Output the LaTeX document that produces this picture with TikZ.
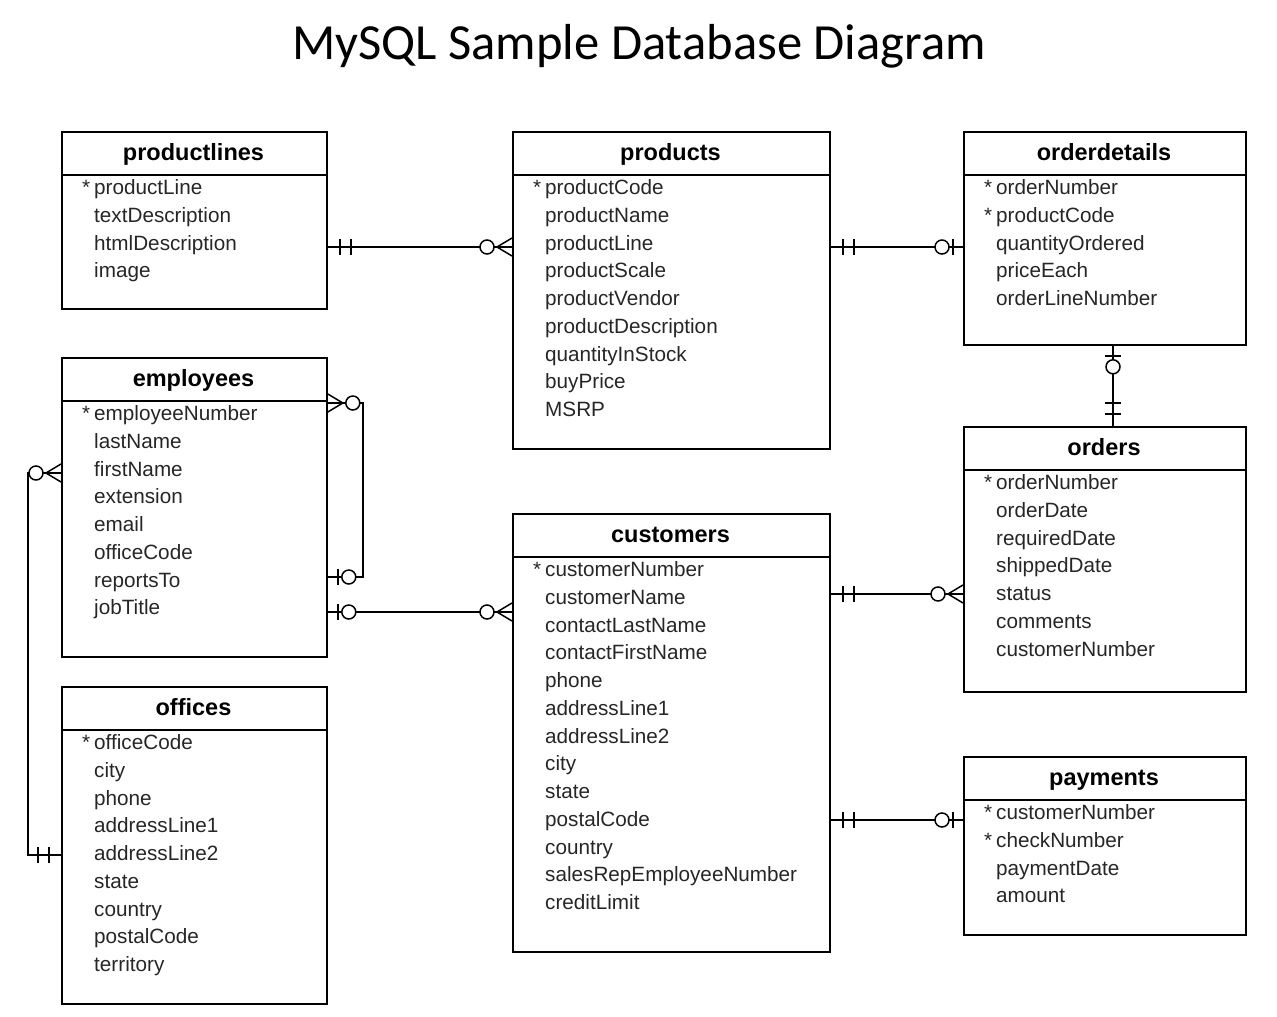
\documentclass[tikz,border=0pt]{standalone}
\usepackage{fontspec}
\setmainfont{Liberation Sans}
\newfontfamily\titlefont{Carlito}

\newcommand{\pk}{\llap{*\hspace{4pt}}}
% one table: name, left, top, right, bottom, title, columns
\newcommand{\erdtable}[7]{%
  \node[tbox, minimum width={#4pt-#2pt}, minimum height={#5pt-#3pt}] (#1) at (#2,#3) {};
  \node[thead] (#1-title) at ({(#2+#4)/2},#3+27) {#6};
  \draw[tline] (#2,#3+44) -- (#4,#3+44);
  \foreach \c [count=\i] in {#7}
    \node[trow] (#1-\i) at (#2+33,{#3+61+(\i-1)*27.75}) {\c};
}

\tikzset{
  tline/.style = {line width=1.8pt},
  rel/.style = {line width=1.5pt},
  pone/.pic = {\draw[rel] (12,-8) -- (12,8) (23,-8) -- (23,8);},
  pzone/.pic = {\draw[rel] (10,-8) -- (10,8);
                \draw[rel, fill=white] (21,0) circle (7pt);},
  pzmany/.pic = {\draw[rel] (0,-9) -- (15,0) -- (0,9);
                 \draw[rel, fill=white] (25,0) circle (7pt);}
}

\begin{document}
\begin{tikzpicture}[x=1pt, y=-1pt,
                    tbox/.style = {draw, line width=1.8pt, anchor=north west,
                                   inner sep=0pt},
                    thead/.style = {anchor=mid, inner sep=0pt,
                                    font=\bfseries\fontsize{23.5}{26}\selectfont},
                    trow/.style = {anchor=mid west, inner sep=0pt, text=black!85,
                                   font=\fontsize{20.7}{24}\selectfont}]
  \useasboundingbox (0,0) rectangle (1277,1017);

  \node[font=\titlefont\fontsize{50.6}{60}\selectfont] (title) at (639,46)
    {MySQL Sample Database Diagram};

  % tables
  \erdtable{productlines}{61}{131}{326}{308}{productlines}
    {\pk productLine, textDescription, htmlDescription, image}
  \erdtable{products}{512}{131}{829}{448}{products}
    {\pk productCode, productName, productLine, productScale, productVendor,
     productDescription, quantityInStock, buyPrice, MSRP}
  \erdtable{orderdetails}{963}{131}{1245}{344}{orderdetails}
    {\pk orderNumber, \pk productCode, quantityOrdered, priceEach, orderLineNumber}
  \erdtable{employees}{61}{357}{326}{656}{employees}
    {\pk employeeNumber, lastName, firstName, extension, email, officeCode,
     reportsTo, jobTitle}
  \erdtable{orders}{963}{426}{1245}{691}{orders}
    {\pk orderNumber, orderDate, requiredDate, shippedDate, status, comments,
     customerNumber}
  \erdtable{customers}{512}{513}{829}{951}{customers}
    {\pk customerNumber, customerName, contactLastName, contactFirstName, phone,
     addressLine1, addressLine2, city, state, postalCode, country,
     salesRepEmployeeNumber, creditLimit}
  \erdtable{offices}{61}{686}{326}{1003}{offices}
    {\pk officeCode, city, phone, addressLine1, addressLine2, state, country,
     postalCode, territory}
  \erdtable{payments}{963}{756}{1245}{934}{payments}
    {\pk customerNumber, \pk checkNumber, paymentDate, amount}

  % relations
  \draw[rel] (productlines.east |- 0,247) -- (products.west |- 0,247);
  \pic at (productlines.east |- 0,247) {pone};
  \pic[rotate=180] at (products.west |- 0,247) {pzmany};

  \draw[rel] (products.east |- 0,247) -- (orderdetails.west |- 0,247);
  \pic at (products.east |- 0,247) {pone};
  \pic[rotate=180] at (orderdetails.west |- 0,247) {pzone};

  \draw[rel] (orderdetails.south -| 1113,0) -- (orders.north -| 1113,0);
  \pic[rotate=-90] at (orderdetails.south -| 1113,0) {pzone};
  \pic[rotate=90] at (orders.north -| 1113,0) {pone};

  \draw[rel] (employees.east |- 0,403) -- ++(35,0) |- (employees.east |- 0,577);
  \pic at (employees.east |- 0,403) {pzmany};
  \pic at (employees.east |- 0,577) {pzone};

  \draw[rel] (employees.east |- 0,612) -- (customers.west |- 0,612);
  \pic at (employees.east |- 0,612) {pzone};
  \pic[rotate=180] at (customers.west |- 0,612) {pzmany};

  \draw[rel] (customers.east |- 0,594) -- (orders.west |- 0,594);
  \pic at (customers.east |- 0,594) {pone};
  \pic[rotate=180] at (orders.west |- 0,594) {pzmany};

  \draw[rel] (customers.east |- 0,820) -- (payments.west |- 0,820);
  \pic at (customers.east |- 0,820) {pone};
  \pic[rotate=180] at (payments.west |- 0,820) {pzone};

  \draw[rel] (employees.west |- 0,473) -- ++(-33,0) |- (offices.west |- 0,855);
  \pic[rotate=180] at (employees.west |- 0,473) {pzmany};
  \pic[rotate=180] at (offices.west |- 0,855) {pone};
\end{tikzpicture}
\end{document}
